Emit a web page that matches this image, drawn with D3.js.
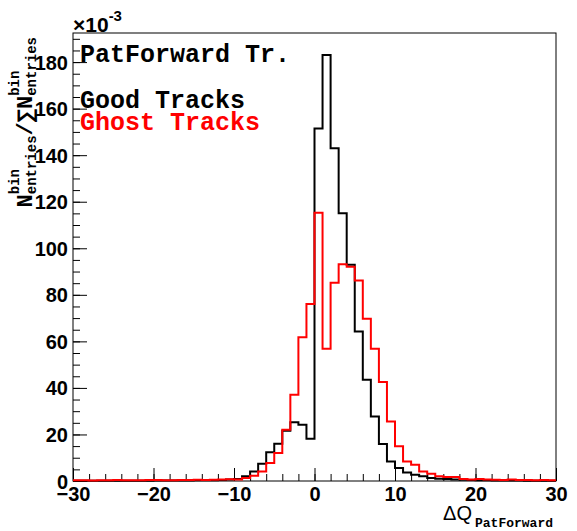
<!DOCTYPE html>
<html>
<head>
<meta charset="utf-8">
<script src="https://d3js.org/d3.v7.min.js"></script>
<style>
    body { margin: 0; background: #fff; }
    .tick text { font-family: "Liberation Sans", Arial, sans-serif; font-weight: bold; font-size: 20px; fill: #000; }
    .tick line { stroke: #000; stroke-width: 1; }
    .mono { font-family: "Liberation Mono", "Courier New", monospace; font-weight: bold; }
</style>
</head>
<body>
<svg id="chart"></svg>
<script>
// histogram binning: 60 bins of width 1 from -30 to 30
var binStart = -30;
var binWidth = 1;

// Good Tracks (black), values x10^-3
var goodTracks = [
    0.1, 0.1, 0.1, 0.1, 0.1, 0.1, 0.1, 0.1, 0.1, 0.1,      // -30 .. -20
    0.2, 0.2, 0.2, 0.2, 0.2, 0.3, 0.3, 0.3, 0.4, 0.6,      // -20 .. -10
    0.9, 2.0, 4.1, 7.4, 12.4, 16.0, 21.6, 25.2, 24.2, 18.2, // -10 .. 0
    151.5, 183.0, 143.0, 115.0, 92.9, 64.2, 43.5, 27.7, 15.9, 8.4, // 0 .. 10
    5.6, 3.7, 2.7, 2.0, 1.3, 1.0, 0.9, 0.6, 0.5, 0.4,      // 10 .. 20
    0.3, 0.3, 0.2, 0.2, 0.2, 0.2, 0.1, 0.1, 0.1, 0.1       // 20 .. 30
];

// Ghost Tracks (red)
var ghostTracks = [
    0.3, 0.3, 0.2, 0.3, 0.3, 0.4, 0.3, 0.3, 0.3, 0.4,
    0.4, 0.3, 0.3, 0.4, 0.4, 0.5, 0.4, 0.5, 0.6, 0.7,
    0.6, 1.3, 2.3, 4.1, 7.7, 12.0, 22.0, 37.1, 61.8, 76.1,
    115.3, 56.8, 85.2, 93.1, 92.1, 86.1, 69.7, 56.8, 42.5, 25.6,
    14.9, 8.4, 7.0, 4.1, 3.1, 2.0, 1.7, 1.7, 0.9, 0.6,
    0.9, 0.6, 0.5, 0.4, 0.6, 0.4, 0.4, 0.3, 0.4, 0.3
];

var xTicks = [-30, -20, -10, 0, 10, 20, 30];
var yTicks = [0, 20, 40, 60, 80, 100, 120, 140, 160, 180];
var legendLabels = ["PatForward Tr.", "Good Tracks", "Ghost Tracks"];
var legendColors = ["#000", "#000", "#ff0000"];

// set the dimensions and margins of the graph
var margin = {top: 33, right: 21, bottom: 50, left: 73},
    width = 577 - margin.left - margin.right,
    height = 531 - margin.top - margin.bottom;

var x = d3.scaleLinear().domain([-30, 30]).range([0, width]);
var y = d3.scaleLinear().domain([0, 192.5]).range([height, 0]);

var svg = d3.select("#chart")
    .attr("width", 577)
    .attr("height", 531)
    .append("g")
    .attr("transform", "translate(" + margin.left + "," + margin.top + ")");

// turn the bin contents into step points
function toSteps(vals) {
    var pts = vals.map(function(v, i) { return [binStart + i * binWidth, v]; });
    pts.push([binStart + vals.length * binWidth, vals[vals.length - 1]]);
    return pts;
}

var step = d3.line()
    .x(function(d) { return x(d[0]); })
    .y(function(d) { return y(d[1]); })
    .curve(d3.curveStepAfter);

// minor ticks
svg.append("g")
    .attr("transform", "translate(0," + height + ")")
    .call(d3.axisBottom(x).tickValues(d3.range(-30, 31, 2)).tickSize(-7).tickSizeOuter(0).tickFormat(""))
    .call(function(g) { g.select(".domain").remove(); });

svg.append("g")
    .call(d3.axisLeft(y).tickValues(d3.range(0, 191, 5)).tickSize(-7).tickSizeOuter(0).tickFormat(""))
    .call(function(g) { g.select(".domain").remove(); });

// major ticks + labels
svg.append("g")
    .attr("transform", "translate(0," + height + ")")
    .call(d3.axisBottom(x).tickValues(xTicks).tickSize(-13).tickSizeOuter(0).tickFormat(d3.format("d")))
    .call(function(g) {
        g.select(".domain").remove();
        g.selectAll("text").attr("y", 20).attr("dy", 0);
    });

svg.append("g")
    .call(d3.axisLeft(y).tickValues(yTicks).tickSize(-14).tickSizeOuter(0).tickPadding(5).tickFormat(d3.format("d")))
    .call(function(g) {
        g.select(".domain").remove();
        g.selectAll("text").attr("dy", "0.35em");
    });

// frame
svg.append("rect")
    .attr("width", width)
    .attr("height", height)
    .attr("fill", "none")
    .attr("stroke", "#000")
    .attr("stroke-width", 1);

// histograms
svg.append("path")
    .datum(toSteps(goodTracks))
    .attr("fill", "none")
    .attr("stroke", "#000")
    .attr("stroke-width", 2)
    .attr("d", step);

svg.append("path")
    .datum(toSteps(ghostTracks))
    .attr("fill", "none")
    .attr("stroke", "#ff0000")
    .attr("stroke-width", 2)
    .attr("d", step);

// legend-ish labels
var legendY = [29, 75, 97];
legendLabels.forEach(function(t, i) {
    svg.append("text")
        .attr("class", "mono")
        .attr("x", 7)
        .attr("y", legendY[i])
        .attr("font-size", 25)
        .attr("fill", legendColors[i])
        .text(t);
});

// exponent above y axis
var expo = svg.append("text")
    .attr("x", 0)
    .attr("y", -1)
    .attr("font-family", "Liberation Sans, Arial, sans-serif")
    .attr("font-weight", "bold")
    .attr("font-size", 21);
expo.append("tspan").text("\u00d710");
expo.append("tspan").attr("font-size", 15).attr("dy", -11).text("-3");

// x axis title: ΔQ_PatForward, right aligned near axis end
var xt = svg.append("g").attr("transform", "translate(" + (width - 3) + "," + (height + 39) + ")");
var sub = xt.append("text").attr("class", "mono").attr("font-size", 13)
    .attr("text-anchor", "end").attr("y", 7).text("PatForward");
var subW = sub.node().getComputedTextLength();
xt.append("text")
    .attr("font-family", "Liberation Sans, Arial, sans-serif")
    .attr("font-size", 20)
    .attr("text-anchor", "end")
    .attr("x", -subW - 3)
    .text("\u0394Q");

// y axis title: N^bin_entries / ΣN^bin_entries, rotated, ending at top
var yt = svg.append("g");
var big = 22, small = 14, pos = 0;
function addBig(str) {
    var t = yt.append("text").attr("class", "mono").attr("font-size", big).attr("x", pos).attr("y", 0).text(str);
    pos += t.node().getComputedTextLength();
}
function addSupSub(sup, sb) {
    var a = yt.append("text").attr("class", "mono").attr("font-size", small).attr("x", pos).attr("y", -13).text(sup);
    var b = yt.append("text").attr("class", "mono").attr("font-size", small).attr("x", pos).attr("y", 4).text(sb);
    pos += Math.max(a.node().getComputedTextLength(), b.node().getComputedTextLength());
}
addBig("N");
addSupSub("bin", "entries");
addBig("/\u2211N");
addSupSub("bin", "entries");
yt.attr("transform", "translate(" + (32 - margin.left) + "," + (37 - margin.top + pos) + ") rotate(-90)");
</script>
</body>
</html>
